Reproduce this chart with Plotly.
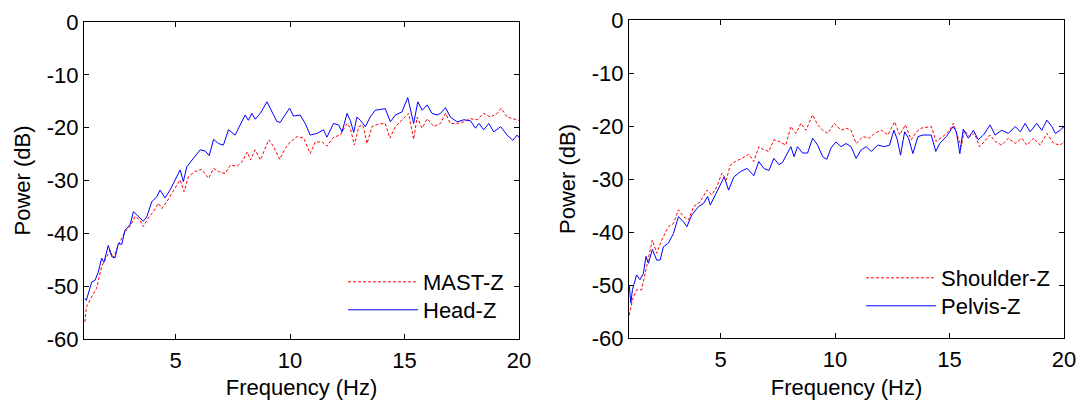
import plotly.graph_objects as go

# ---------------- data ----------------
f_head = [1.04, 1.1, 1.34, 1.48, 1.62, 1.77, 1.87, 2.06, 2.21, 2.36, 2.5, 2.65, 2.79, 3.01, 3.16, 3.38, 3.59,
          3.74, 3.96, 4.18, 4.32, 4.54, 4.76, 4.98, 5.2, 5.34, 5.49, 5.78, 6.07, 6.29, 6.47, 6.66, 6.87, 7.09,
          7.31, 7.6, 7.75, 8.04, 8.18, 8.33, 8.48, 8.7, 8.99, 9.2, 9.42, 9.57, 9.79, 9.98, 10.15, 10.44, 10.66,
          10.88, 11.17, 11.46, 11.61, 11.9, 12.12, 12.27, 12.49, 12.63, 12.78, 12.92, 13.07, 13.29, 13.5, 13.72,
          14.16, 14.38, 14.6, 14.89, 15.14, 15.33, 15.4, 15.58, 15.77, 15.99, 16.2, 16.42, 16.57, 16.79, 17.0,
          17.3, 17.59, 17.88, 18.1, 18.25, 18.46, 18.68, 18.9, 19.2, 19.48, 19.73, 19.92, 20.1]
p_head = [-52.3, -52.7, -49.2, -48.9, -47.4, -44.7, -45.5, -42.3, -44.4, -44.6, -41.9, -42.1, -39.4, -38.4, -35.9,
          -36.8, -37.7, -36.9, -34.0, -33.1, -31.8, -33.3, -31.8, -29.9, -28.0, -30.2, -27.4, -25.8, -24.2, -24.4,
          -25.3, -22.2, -23.0, -23.3, -20.4, -21.4, -20.1, -17.6, -18.6, -17.3, -18.4, -17.3, -15.1, -17.0, -18.8,
          -19.0, -17.6, -16.3, -17.8, -17.6, -19.2, -21.4, -21.1, -20.4, -21.8, -19.2, -19.5, -20.8, -17.3, -18.6,
          -20.9, -18.0, -18.6, -19.8, -18.0, -16.7, -16.4, -18.9, -17.6, -17.0, -14.3, -18.0, -19.2, -15.1, -16.7,
          -15.7, -17.3, -17.6, -17.3, -16.2, -18.0, -18.9, -18.5, -18.7, -20.1, -19.2, -20.4, -19.2, -20.8, -19.8,
          -21.4, -22.4, -21.4, -22.4]

f_mast = [1.04, 1.1, 1.34, 1.55, 1.77, 1.99, 2.14, 2.28, 2.5, 2.79, 3.01, 3.23, 3.45, 3.59, 3.81, 4.03, 4.25,
          4.4, 4.62, 4.84, 5.05, 5.2, 5.37, 5.56, 5.85, 6.14, 6.44, 6.66, 6.87, 7.17, 7.39, 7.68, 7.9, 8.13,
          8.27, 8.48, 8.7, 8.85, 9.07, 9.28, 9.55, 9.79, 10.01, 10.3, 10.6, 10.88, 11.1, 11.4, 11.61, 11.9,
          12.19, 12.49, 12.63, 12.81, 13.0, 13.18, 13.36, 13.58, 13.87, 14.16, 14.36, 14.6, 14.89, 15.18, 15.4,
          15.55, 15.77, 15.99, 16.28, 16.57, 16.79, 17.0, 17.3, 17.59, 17.88, 18.17, 18.46, 18.75, 19.05, 19.22,
          19.48, 19.78, 20.07]
p_mast = [-56.8, -54.0, -52.0, -50.4, -46.3, -44.4, -43.2, -44.7, -42.2, -39.7, -38.7, -36.8, -37.5, -38.7, -37.1,
          -35.9, -34.3, -35.3, -34.0, -32.4, -30.9, -29.9, -32.1, -29.3, -28.3, -27.9, -29.6, -27.7, -28.3, -28.7,
          -27.1, -27.3, -26.5, -24.6, -26.1, -24.2, -26.1, -24.6, -22.3, -23.6, -26.0, -23.9, -22.7, -21.7, -22.0,
          -24.9, -22.7, -22.7, -23.5, -21.8, -21.4, -19.2, -20.1, -23.3, -19.8, -19.5, -23.0, -19.8, -19.3, -19.2,
          -22.0, -19.8, -18.6, -17.3, -22.2, -18.0, -20.1, -18.3, -19.8, -19.2, -17.3, -19.2, -19.2, -18.9, -18.3,
          -18.5, -17.3, -18.0, -17.3, -16.3, -18.0, -18.3, -18.7]

f_pelvis = [1.01, 1.08, 1.15, 1.33, 1.48, 1.63, 1.74, 1.85, 2.02, 2.21, 2.36, 2.5, 2.72, 2.94, 3.16, 3.38, 3.53,
            3.74, 4.04, 4.26, 4.43, 4.55, 4.77, 4.99, 5.16, 5.35, 5.58, 5.87, 6.16, 6.45, 6.67, 6.89, 7.11, 7.33,
            7.55, 7.7, 7.85, 8.07, 8.21, 8.36, 8.58, 8.8, 9.02, 9.24, 9.46, 9.64, 9.82, 10.04, 10.26, 10.48, 10.7,
            10.92, 11.14, 11.36, 11.58, 11.87, 12.16, 12.38, 12.57, 12.72, 12.86, 13.04, 13.21, 13.4, 13.62, 13.84,
            14.2, 14.4, 14.57, 14.86, 15.16, 15.3, 15.45, 15.6, 15.82, 16.04, 16.26, 16.48, 16.77, 16.99, 17.28,
            17.57, 17.87, 18.09, 18.3, 18.52, 18.81, 19.03, 19.25, 19.47, 19.62, 19.84, 19.98, 20.1]
p_pelvis = [-50.0, -53.4, -50.9, -48.1, -49.0, -47.8, -44.6, -45.9, -43.3, -45.3, -45.3, -42.8, -42.1, -40.3, -37.1,
            -38.1, -39.0, -36.8, -35.2, -34.6, -33.3, -34.9, -33.0, -31.1, -29.6, -32.1, -29.6, -28.6, -28.0, -29.4,
            -26.7, -28.0, -28.4, -26.1, -27.3, -26.9, -25.6, -23.9, -25.8, -23.9, -25.1, -25.1, -22.3, -23.6, -25.8,
            -26.3, -24.2, -23.0, -23.9, -23.3, -23.9, -26.1, -24.5, -23.9, -24.8, -23.6, -23.9, -23.6, -20.8, -22.6,
            -25.5, -21.1, -22.3, -25.2, -22.0, -21.7, -21.7, -24.8, -23.3, -22.0, -20.1, -21.1, -25.2, -20.6, -22.3,
            -20.8, -22.6, -21.7, -19.8, -21.7, -20.8, -21.4, -20.1, -21.1, -19.5, -21.1, -19.5, -20.8, -18.9, -20.1,
            -21.4, -20.8, -20.1, -21.4]

f_shoulder = [1.01, 1.15, 1.33, 1.55, 1.77, 2.02, 2.21, 2.43, 2.72, 2.94, 3.16, 3.38, 3.6, 3.82, 4.11, 4.4, 4.62,
              4.84, 5.06, 5.25, 5.42, 5.64, 5.94, 6.23, 6.45, 6.67, 6.89, 7.11, 7.33, 7.55, 7.85, 8.07, 8.29, 8.51,
              8.73, 9.02, 9.24, 9.46, 9.68, 9.97, 10.26, 10.48, 10.7, 10.92, 11.21, 11.5, 11.72, 12.02, 12.31, 12.6,
              12.82, 13.07, 13.33, 13.55, 13.77, 14.2, 14.42, 14.71, 15.0, 15.17, 15.36, 15.51, 15.65, 15.87, 16.09,
              16.31, 16.53, 16.77, 16.99, 17.28, 17.57, 17.87, 18.16, 18.38, 18.67, 18.96, 19.25, 19.55, 19.84,
              20.0, 20.1]
p_shoulder = [-55.7, -52.8, -50.9, -50.9, -46.5, -41.5, -44.0, -41.5, -39.0, -38.4, -35.8, -37.1, -37.7, -35.2,
              -34.3, -32.1, -33.0, -31.4, -28.9, -30.2, -27.4, -26.7, -26.1, -25.3, -26.7, -23.9, -24.5, -24.8, -22.6,
              -22.9, -23.6, -20.1, -21.4, -19.5, -20.8, -17.9, -19.8, -20.8, -21.4, -19.5, -20.8, -20.4, -20.8, -23.3,
              -22.0, -22.3, -21.4, -20.8, -21.7, -19.2, -21.7, -19.8, -22.6, -21.1, -20.4, -20.1, -22.9, -22.0, -20.8,
              -19.5, -22.0, -23.9, -20.8, -22.0, -21.4, -23.9, -22.9, -21.7, -22.9, -23.6, -22.3, -23.3, -22.3, -23.6,
              -22.3, -23.6, -21.4, -23.3, -23.6, -22.9, -24.3]

x_ticks = [5, 10, 15, 20]
x_ticktext = ["5", "10", "15", "20"]
y_ticks = [0, -10, -20, -30, -40, -50, -60]
y_ticktext = ["0", "-10", "-20", "-30", "-40", "-50", "-60"]
x_title = "Frequency (Hz)"
y_title = "Power (dB)"

# ---------------- figure ----------------
FONT = "Liberation Sans, Arial, sans-serif"
FS = 22
RED = "#FF0000"
BLUE = "#0000FF"

fig = go.Figure()
fig.add_trace(go.Scatter(x=f_mast, y=p_mast, mode="lines", name="MAST-Z",
                         line=dict(color=RED, width=1, dash="3px,2px"),
                         xaxis="x", yaxis="y", legend="legend"))
fig.add_trace(go.Scatter(x=f_head, y=p_head, mode="lines", name="Head-Z",
                         line=dict(color=BLUE, width=1),
                         xaxis="x", yaxis="y", legend="legend2"))
fig.add_trace(go.Scatter(x=f_shoulder, y=p_shoulder, mode="lines", name="Shoulder-Z",
                         line=dict(color=RED, width=1, dash="3px,2px"),
                         xaxis="x2", yaxis="y2", legend="legend3"))
fig.add_trace(go.Scatter(x=f_pelvis, y=p_pelvis, mode="lines", name="Pelvis-Z",
                         line=dict(color=BLUE, width=1),
                         xaxis="x2", yaxis="y2", legend="legend4"))

W, H = 1083, 400

def xdom(a, b):
    return [a / W, b / W]

def ydom(top, bottom):
    return [1 - bottom / H, 1 - top / H]

tfont = dict(family=FONT, size=FS, color="black")
common_x = dict(range=[1, 20], tickvals=x_ticks, ticktext=x_ticktext, ticks="inside", ticklen=5,
                tickcolor="black", showline=True, linecolor="black", linewidth=1, mirror="ticks",
                showgrid=False, zeroline=False, tickfont=tfont, ticklabelstandoff=2,
                title=dict(text=x_title, font=tfont, standoff=12), automargin=False)
common_y = dict(range=[-60, 0], tickvals=y_ticks, ticktext=y_ticktext, ticks="inside", ticklen=5,
                tickcolor="black", showline=True, linecolor="black", linewidth=1, mirror="ticks",
                showgrid=False, zeroline=False, tickfont=tfont,
                title=dict(text=y_title, font=tfont, standoff=10), automargin=False)

def leg(xpx, ytop):
    return dict(x=xpx / W, y=1 - ytop / H, xanchor="left", yanchor="top", bgcolor="rgba(0,0,0,0)",
                borderwidth=0, font=tfont, itemwidth=70)

fig.update_layout(
    width=W, height=H,
    margin=dict(l=0, r=0, t=0, b=0),
    paper_bgcolor="white", plot_bgcolor="white",
    template="none",
    font=tfont,
    xaxis=dict(domain=xdom(84, 519), anchor="y", **common_x),
    yaxis=dict(domain=ydom(22, 339), anchor="x", **common_y),
    xaxis2=dict(domain=xdom(629, 1064), anchor="y2", **common_x),
    yaxis2=dict(domain=ydom(20, 338), anchor="x2", **common_y),
    legend=leg(343, 261),
    legend2=leg(343, 289),
    legend3=leg(861, 257),
    legend4=leg(861, 285),
    showlegend=True,
)

fig.write_html("out.html")
